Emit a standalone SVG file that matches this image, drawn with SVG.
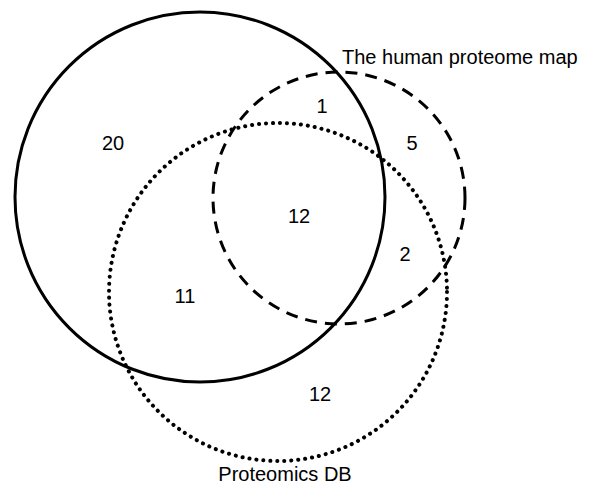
<svg xmlns="http://www.w3.org/2000/svg" width="590" height="486" viewBox="0 0 590 486">
<style>
  .set { fill: none; stroke: #000; stroke-width: 3; }
  .dashed { stroke-dasharray: 12 8; }
  .dotted { stroke-dasharray: 0.1 6.9; stroke-linecap: round; stroke-width: 4; }
  .lbl { font-family: "Liberation Sans", Arial, Helvetica, sans-serif; font-size: 20px; fill: #000; }
  .num { font-family: "Liberation Sans", Arial, Helvetica, sans-serif; font-size: 20px; fill: #000; text-anchor: middle; }
</style>
<rect width="590" height="486" fill="#fff"/>
<g id="sets">
  <g id="set-solid"><circle class="set" cx="200" cy="197" r="185"/></g>
  <g id="set-hpm"><circle class="set dashed" cx="339" cy="198" r="126"/>
    <text class="lbl" x="342" y="64" font-size="20.5">The human proteome map</text></g>
  <g id="set-pdb"><circle class="set dotted" cx="278" cy="292" r="169"/>
    <text class="lbl" x="285" y="481" text-anchor="middle" font-size="19">Proteomics DB</text></g>
</g>
<g id="counts">
  <text class="num" x="113" y="150">20</text>
  <text class="num" x="322" y="113">1</text>
  <text class="num" x="412" y="150">5</text>
  <text class="num" x="299" y="223">12</text>
  <text class="num" x="405" y="261">2</text>
  <text class="num" x="185" y="303">11</text>
  <text class="num" x="320" y="401">12</text>
</g>
</svg>
